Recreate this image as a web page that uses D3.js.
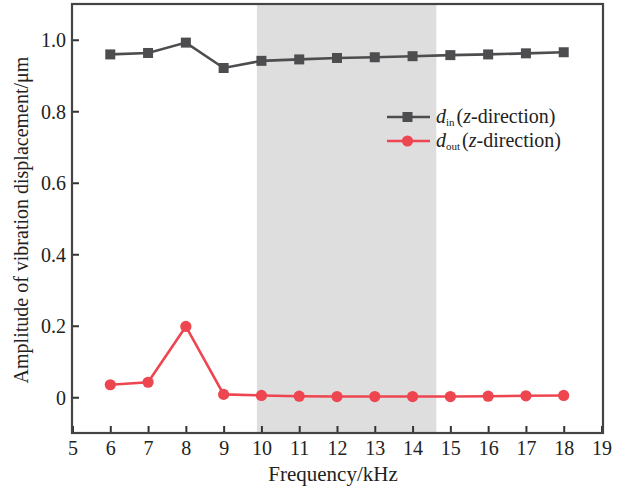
<!DOCTYPE html>
<html>
<head>
<meta charset="utf-8">
<script src="https://cdn.jsdelivr.net/npm/d3@7"></script>
<style>
  html, body { margin: 0; padding: 0; background: #fff; }
  svg { display: block; }
</style>
</head>
<body>
<svg id="chart" width="623" height="491"></svg>
<script>
// Frequency sweep (kHz)
const frequencies = [6, 7, 8, 9, 10, 11, 12, 13, 14, 15, 16, 17, 18];
// Vibration amplitude, in-plane vs out-of-plane (µm)
const dIn  = [0.959, 0.963, 0.992, 0.921, 0.941, 0.945, 0.949, 0.951, 0.954, 0.957, 0.959, 0.962, 0.965];
const dOut = [0.035, 0.042, 0.198, 0.008, 0.005, 0.003, 0.002, 0.002, 0.002, 0.002, 0.003, 0.004, 0.005];
// Highlighted frequency band (kHz)
const band = [9.88, 14.63];
// Axis ticks
const xTicks = [5, 6, 7, 8, 9, 10, 11, 12, 13, 14, 15, 16, 17, 18, 19];
const yTicks = [0, 0.2, 0.4, 0.6, 0.8, 1.0];
const yTickLabels = ["0", "0.2", "0.4", "0.6", "0.8", "1.0"];

const FONT = '"Liberation Serif"';
const svg = d3.select("#chart");
const m = { left: 72, right: 603, top: 4, bottom: 433 };

const x = d3.scaleLinear().domain([5, 19]).range([m.left + 0.5, m.right - 1.5]);
const y = d3.scaleLinear().domain([-0.1, 1.1]).range([m.bottom, m.top]);

const grey = "#4d4d4f";
const red = "#ee4650";
const textColor = "#222";

// shaded band
svg.append("rect")
  .attr("x", x(band[0])).attr("y", m.top)
  .attr("width", x(band[1]) - x(band[0]))
  .attr("height", m.bottom - m.top)
  .attr("fill", "#dedede");

// axes (ticks point inward)
const xAxis = d3.axisBottom(x).tickValues(xTicks).tickSizeInner(-7).tickSizeOuter(0).tickPadding(8);
const yAxis = d3.axisLeft(y).tickValues(yTicks).tickSizeInner(-7).tickSizeOuter(0).tickPadding(6)
  .tickFormat((d, i) => yTickLabels[i]);

const gx = svg.append("g").attr("transform", `translate(0,${m.bottom})`).call(xAxis);
const gy = svg.append("g").attr("transform", `translate(${m.left},0)`).call(yAxis);
[gx, gy].forEach(g => {
  g.attr("font-family", null).attr("font-size", null);
  g.select(".domain").remove();
  g.selectAll(".tick line").attr("stroke", "#333").attr("stroke-width", 2);
  g.selectAll(".tick text")
    .style("font-family", FONT)
    .style("font-size", "20px").attr("fill", textColor);
});
gy.selectAll(".tick text").attr("dy", "0.34em");

// frame
svg.append("rect")
  .attr("x", m.left).attr("y", m.top)
  .attr("width", m.right - m.left).attr("height", m.bottom - m.top)
  .attr("fill", "none").attr("stroke", "#444").attr("stroke-width", 2.2);

// series
const line = d3.line().x(d => x(d[0])).y(d => y(d[1]));
const inPts = frequencies.map((f, i) => [f, dIn[i]]);
const outPts = frequencies.map((f, i) => [f, dOut[i]]);

svg.append("path").datum(inPts).attr("d", line)
  .attr("fill", "none").attr("stroke", grey).attr("stroke-width", 2.6);
svg.append("g").selectAll("rect").data(inPts).join("rect")
  .attr("x", d => x(d[0]) - 5).attr("y", d => y(d[1]) - 5)
  .attr("width", 10).attr("height", 10).attr("fill", grey);

svg.append("path").datum(outPts).attr("d", line)
  .attr("fill", "none").attr("stroke", red).attr("stroke-width", 2.6);
svg.append("g").selectAll("circle").data(outPts).join("circle")
  .attr("cx", d => x(d[0])).attr("cy", d => y(d[1]))
  .attr("r", 5.6).attr("fill", red);

// legend
const legend = [
  { sub: "in", color: grey, shape: "square", yy: 117 },
  { sub: "out", color: red, shape: "circle", yy: 141 }
];
legend.forEach(l => {
  const g = svg.append("g");
  g.append("line").attr("x1", 387).attr("x2", 430).attr("y1", l.yy).attr("y2", l.yy)
    .attr("stroke", l.color).attr("stroke-width", 2.6);
  if (l.shape === "square") {
    g.append("rect").attr("x", 402.5).attr("y", l.yy - 5).attr("width", 10).attr("height", 10).attr("fill", l.color);
  } else {
    g.append("circle").attr("cx", 407.5).attr("cy", l.yy).attr("r", 5.6).attr("fill", l.color);
  }
  const t = g.append("text").attr("x", 436).attr("y", l.yy + 6)
    .style("font-family", FONT).style("font-size", "20px").attr("fill", textColor);
  t.append("tspan").style("font-style", "italic").text("d");
  t.append("tspan").style("font-size", "11px").attr("dy", 3).text(l.sub);
  t.append("tspan").attr("dy", -3).attr("dx", 2).text("(");
  t.append("tspan").style("font-style", "italic").text("z");
  t.append("tspan").text("-direction)");
});

// axis titles
svg.append("text")
  .attr("x", 333).attr("y", 481)
  .attr("text-anchor", "middle")
  .style("font-family", FONT).style("font-size", "21px").attr("fill", textColor)
  .text("Frequency/kHz");

svg.append("text")
  .attr("transform", `translate(28,220) rotate(-90)`)
  .attr("text-anchor", "middle")
  .style("font-family", FONT).style("font-size", "20px").attr("fill", textColor)
  .text("Amplitude of vibration displacement/μm");
</script>
</body>
</html>
